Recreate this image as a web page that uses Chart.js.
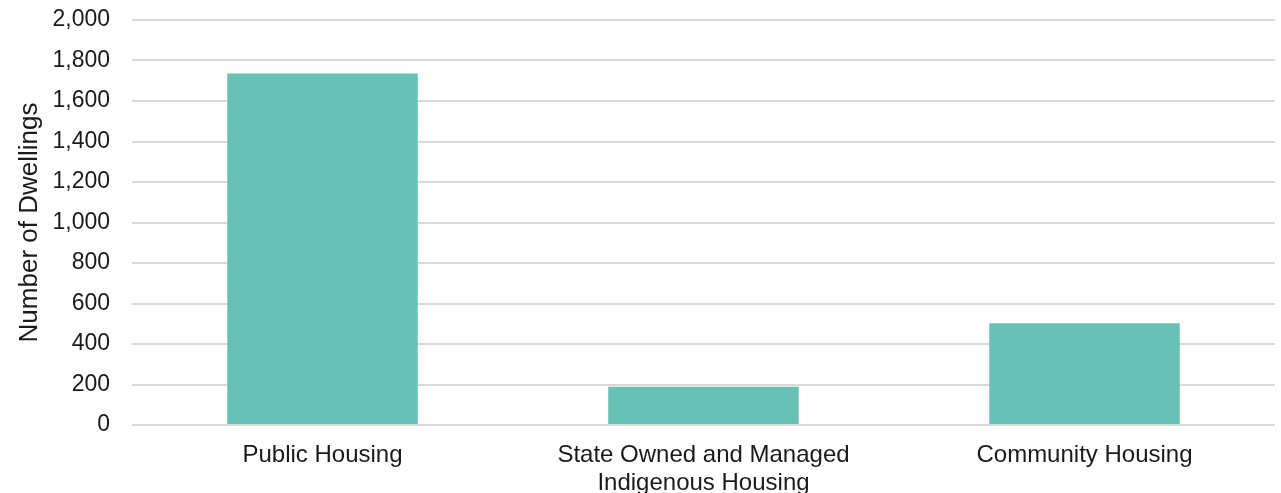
<!DOCTYPE html>
<html>
<head>
<meta charset="utf-8">
<script src="https://cdn.jsdelivr.net/npm/chart.js@4/dist/chart.umd.min.js"></script>
<style>
  html, body { margin: 0; padding: 0; background: #fff; }
  #wrap { width: 1281px; height: 493px; }
</style>
</head>
<body>
<div id="wrap"><canvas id="chart" width="1281" height="493"></canvas></div>
<script>
// Dados do gráfico
const categories = ['Public Housing', ['State Owned and Managed', 'Indigenous Housing'], 'Community Housing'];
const dwellings = [1736, 189, 502];
const yTicks = [0, 200, 400, 600, 800, 1000, 1200, 1400, 1600, 1800, 2000];

const fontFamily = '"Liberation Sans", Arial, sans-serif';
const textColor = '#1a1a1a';

new Chart(document.getElementById('chart'), {
    type: 'bar',
    data: {
        labels: categories,
        datasets: [{
            label: 'Number of Dwellings',
            data: dwellings,
            backgroundColor: '#69C0B4',
            borderWidth: 0,
            categoryPercentage: 1,
            barPercentage: 0.5
        }]
    },
    options: {
        responsive: false,
        animation: false,
        layout: {
            padding: { top: 20, right: 6, left: 0, bottom: 0 }
        },
        plugins: {
            legend: { display: false },
            tooltip: { enabled: false }
        },
        scales: {
            y: {
                min: 0,
                max: 2000,
                afterBuildTicks: function(axis) {
                    axis.ticks = yTicks.map(v => ({ value: v }));
                },
                afterFit: function(axis) {
                    axis.width = 132;
                    axis.paddingTop = 0;
                    axis.paddingBottom = 0;
                },
                border: { display: false },
                grid: {
                    color: '#d9d9d9',
                    lineWidth: 2,
                    drawTicks: false
                },
                ticks: {
                    padding: 22,
                    color: textColor,
                    font: { family: fontFamily, size: 23 },
                    callback: v => v.toLocaleString('en-US')
                },
                title: {
                    display: true,
                    text: 'Number of Dwellings',
                    color: textColor,
                    font: { family: fontFamily, size: 26 },
                    padding: { top: 14, bottom: 0 }
                }
            },
            x: {
                afterFit: function(axis) {
                    axis.height = 68;
                    axis.paddingLeft = 0;
                    axis.paddingRight = 0;
                },
                border: { display: false },
                grid: { display: false, drawTicks: false },
                ticks: {
                    padding: 17,
                    color: textColor,
                    maxRotation: 0,
                    font: { family: fontFamily, size: 24, lineHeight: 1.15 }
                }
            }
        }
    }
});
</script>
</body>
</html>
